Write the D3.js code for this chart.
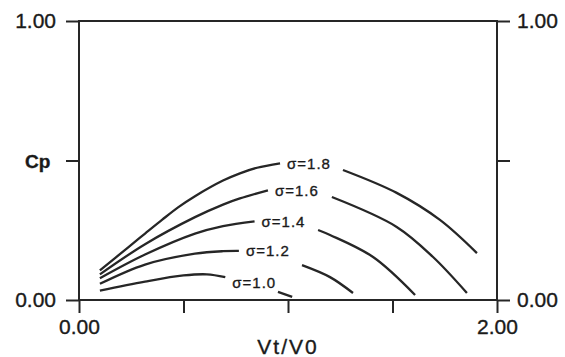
<!DOCTYPE html>
<html>
<head>
<meta charset="utf-8">
<script src="https://cdn.jsdelivr.net/npm/d3@7"></script>
<style>
  body { margin: 0; background: #fff; }
  svg { display: block; }
  text { font-family: "Liberation Sans", Arial, sans-serif; fill: #1a1a1a; stroke: #1a1a1a; stroke-width: 0.35px; }
</style>
</head>
<body>
<div class="chart-container"></div>
<script>
// axis ticks
const xTicks = [0, 0.5, 1, 1.5, 2];
const yTicks = [0, 0.5, 1];
const xLabelTicks = [0, 2];
const yLabelTicks = [0, 1];

// sigma values, one curve each (split in two where the label sits)
const sigmas = [1.0, 1.2, 1.4, 1.6, 1.8];

// [Vt/V0, Cp]
const sigma10Left  = [[0.10,0.034],[0.316,0.066],[0.50,0.088],[0.612,0.092],[0.70,0.082]];
const sigma10Right = [[0.952,0.029],[1.02,0.011]];
const sigma12Left  = [[0.10,0.058],[0.316,0.127],[0.555,0.166],[0.689,0.175],[0.765,0.176]];
const sigma12Right = [[1.067,0.125],[1.201,0.082],[1.311,0.025]];
const sigma14Left  = [[0.10,0.078],[0.316,0.163],[0.555,0.238],[0.689,0.265],[0.84,0.282]];
const sigma14Right = [[1.144,0.251],[1.201,0.233],[1.407,0.154],[1.608,0.018]];
const sigma16Left  = [[0.10,0.092],[0.316,0.200],[0.555,0.297],[0.689,0.342],[0.77,0.364],[0.904,0.393]];
const sigma16Right = [[1.21,0.369],[1.52,0.262],[1.694,0.154],[1.856,0.025]];
const sigma18Left  = [[0.10,0.106],[0.234,0.188],[0.316,0.238],[0.397,0.287],[0.474,0.332],[0.555,0.372],[0.689,0.428],[0.77,0.454],[0.852,0.474],[0.962,0.490]];
const sigma18Right = [[1.263,0.466],[1.52,0.384],[1.727,0.287],[1.904,0.168]];

const leftParts  = [sigma10Left, sigma12Left, sigma14Left, sigma16Left, sigma18Left];
const rightParts = [sigma10Right, sigma12Right, sigma14Right, sigma16Right, sigma18Right];

const width = 565, height = 357;
const margin = {top: 21, right: 68, bottom: 57, left: 79};
const plotW = width - margin.left - margin.right;
const plotH = height - margin.top - margin.bottom;

const svg = d3.select('.chart-container')
  .append('svg')
  .attr('width', width)
  .attr('height', height);

const g = svg.append('g')
  .attr('transform', 'translate(' + margin.left + ',' + margin.top + ')');

const x = d3.scaleLinear().domain([0, 2]).range([0, plotW]);
const y = d3.scaleLinear().domain([0, 1]).range([plotH, 0]);

const fmt = d3.format('.2f');
const stroke = '#262626';

// frame
g.append('rect')
  .attr('x', 0).attr('y', 0)
  .attr('width', plotW).attr('height', plotH)
  .attr('fill', 'none')
  .attr('stroke', stroke)
  .attr('stroke-width', 2);

function styleAxis(sel) {
  sel.select('.domain').remove();
  sel.selectAll('.tick line').attr('stroke', stroke).attr('stroke-width', 2);
  sel.selectAll('.tick text')
    .style('font-size', '21px')
    .style('font-family', '"Liberation Sans", Arial, sans-serif')
    .attr('fill', '#1a1a1a');
}

g.append('g')
  .attr('transform', 'translate(0,' + plotH + ')')
  .call(d3.axisBottom(x).tickValues(xTicks).tickSize(13).tickPadding(6)
    .tickFormat(d => xLabelTicks.includes(d) ? fmt(d) : ''))
  .call(styleAxis);

g.append('g')
  .call(d3.axisLeft(y).tickValues(yTicks).tickSize(13).tickPadding(10)
    .tickFormat(d => yLabelTicks.includes(d) ? fmt(d) : ''))
  .call(styleAxis);

g.append('g')
  .attr('transform', 'translate(' + plotW + ',0)')
  .call(d3.axisRight(y).tickValues(yTicks).tickSize(13).tickPadding(7)
    .tickFormat(d => yLabelTicks.includes(d) ? fmt(d) : ''))
  .call(styleAxis);

// axis titles
svg.append('text')
  .attr('x', 25).attr('y', margin.top + y(0.5) + 1)
  .attr('dominant-baseline', 'central')
  .style('font-size', '19px')
  .style('font-weight', 'bold')
  .text('Cp');

svg.append('text')
  .attr('x', margin.left + x(1)).attr('y', 346)
  .attr('text-anchor', 'middle')
  .attr('dominant-baseline', 'central')
  .style('font-size', '21px')
  .style('letter-spacing', '2px')
  .text('Vt/V0');

// curves
const line = d3.line()
  .x(d => x(d[0]))
  .y(d => y(d[1]))
  .curve(d3.curveCatmullRom.alpha(0.5));

const curves = g.append('g').attr('class', 'curves');

sigmas.forEach(function(s, i) {
  [leftParts[i], rightParts[i]].forEach(function(part) {
    curves.append('path')
      .datum(part)
      .attr('d', line)
      .attr('fill', 'none')
      .attr('stroke', stroke)
      .attr('stroke-width', 2.3);
  });

  let end = leftParts[i][leftParts[i].length - 1];
  g.append('text')
    .attr('x', x(end[0]) + 7)
    .attr('y', y(end[1]) + (i === 0 ? 5 : 0))
    .attr('dominant-baseline', 'central')
    .style('font-size', '15px')
    .style('letter-spacing', '1px')
    .text('\u03c3=' + s.toFixed(1));
});
</script>
</body>
</html>
